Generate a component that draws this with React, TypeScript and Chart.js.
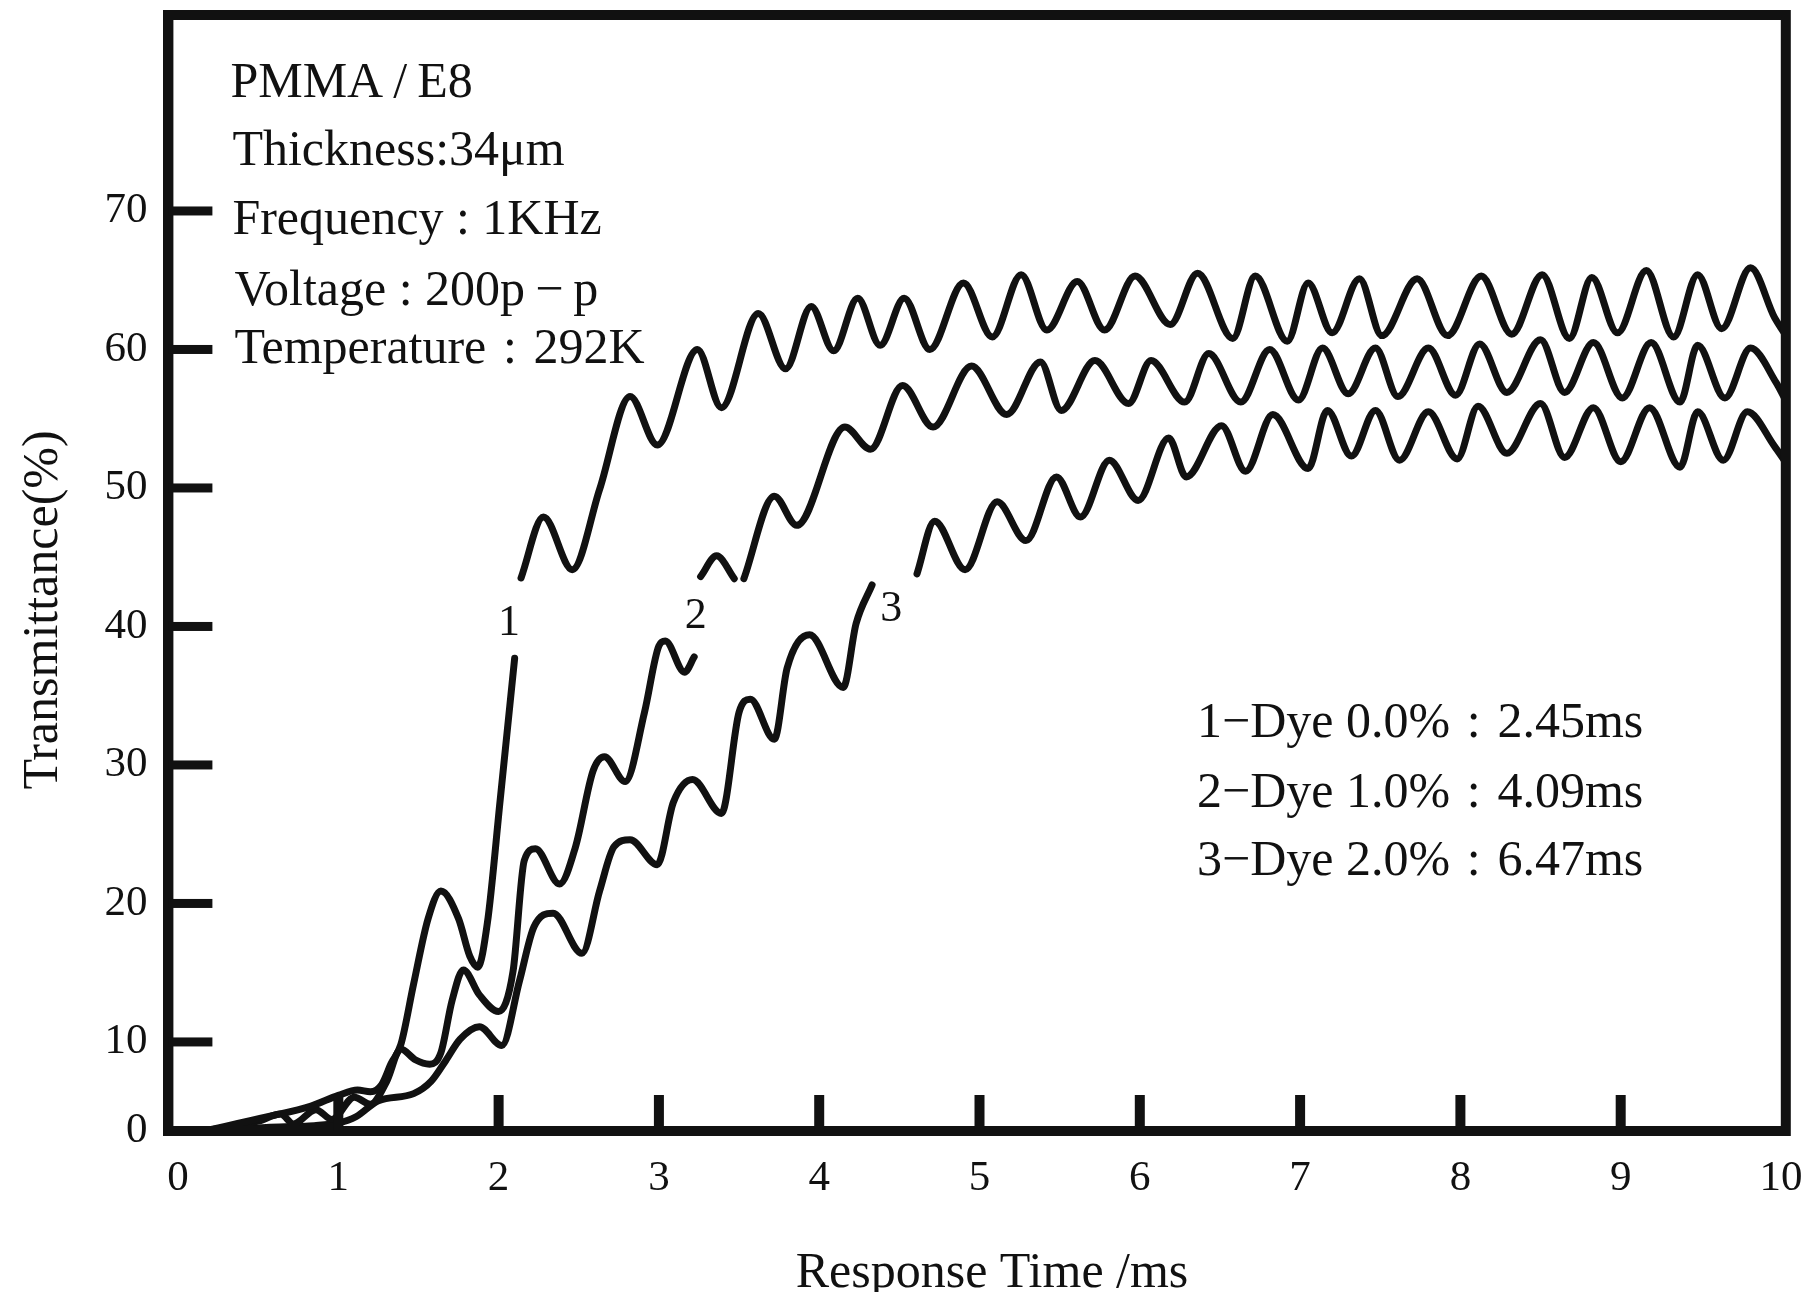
import React, { useEffect, useRef } from 'react';
import { Chart, registerables, LinearScale } from 'chart.js';

Chart.register(...registerables);

// ---------------- data ----------------
const xTickValues = [0, 1, 2, 3, 4, 5, 6, 7, 8, 9, 10];
const yTickValues = [0, 10, 20, 30, 40, 50, 60, 70];
const xInnerTicks = [1, 2, 3, 4, 5, 6, 7, 8, 9];
const yInnerTicks = [10, 20, 30, 40, 50, 60, 70];

// Curve 1 : Dye 0.0 %
const curve1X = [0.16, 0.56, 0.83, 1.0, 1.12, 1.2, 1.27, 1.33, 1.39, 1.47, 1.56, 1.64, 1.75, 1.82, 1.87, 1.93, 2.01, 2.10, 2.12, 2.14, 2.28, 2.46, 2.63, 2.82, 2.99, 3.24, 3.39, 3.62, 3.79, 3.95, 4.09, 4.24, 4.38, 4.53, 4.69, 4.90, 5.08, 5.26, 5.42, 5.61, 5.78, 5.97, 6.19, 6.36, 6.58, 6.72, 6.92, 7.05, 7.20, 7.37, 7.51, 7.73, 7.92, 8.13, 8.32, 8.51, 8.68, 8.82, 8.98, 9.16, 9.33, 9.48, 9.63, 9.81, 9.96, 10.02];
const curve1Y = [0, 1.6, 2.8, 4.0, 4.6, 4.4, 5.2, 7.6, 9.7, 14.2, 18.9, 20.9, 18.9, 16.2, 15.4, 18.6, 27.5, 37.7, null, 43.5, 47.9, 44.1, 49.9, 56.6, 53.1, 60.0, 55.8, 62.6, 58.6, 63.1, 59.9, 63.7, 60.3, 63.7, 60.0, 64.8, 60.9, 65.4, 61.4, 64.9, 61.4, 65.3, 61.8, 65.5, 60.8, 65.3, 60.6, 64.8, 61.2, 65.1, 61.0, 65.1, 61.0, 65.3, 61.1, 65.4, 60.8, 65.2, 61.2, 65.7, 60.9, 65.4, 61.5, 65.9, 62.3, 61.2];

// Curve 2 : Dye 1.0 %
const curve2X = [0.16, 0.5, 0.64, 0.72, 0.86, 0.96, 1.1, 1.2, 1.3, 1.39, 1.48, 1.57, 1.64, 1.71, 1.78, 1.88, 2.0, 2.09, 2.16, 2.23, 2.38, 2.48, 2.59, 2.66, 2.79, 2.91, 3.0, 3.04, 3.16, 3.22, 3.24, 3.26, 3.36, 3.47, 3.50, 3.53, 3.72, 3.86, 4.16, 4.32, 4.52, 4.71, 4.95, 5.17, 5.38, 5.51, 5.72, 5.93, 6.07, 6.28, 6.43, 6.63, 6.81, 6.99, 7.14, 7.30, 7.47, 7.61, 7.80, 7.97, 8.12, 8.29, 8.50, 8.65, 8.83, 9.01, 9.19, 9.37, 9.48, 9.65, 9.81, 9.97, 10.03];
const curve2Y = [0, 1.1, 1.9, 0.8, 2.4, 1.3, 3.8, 3.0, 5.5, 9.2, 8.0, 7.5, 8.8, 13.0, 15.2, 13.4, 12.2, 15.1, 23.1, 23.95, 21.4, 24.1, 29.6, 30.6, 28.8, 33.8, 38.6, 38.95, 36.7, 37.8, null, 43.6, 45.1, 43.45, null, 43.45, 49.4, 47.3, 54.4, 52.8, 57.4, 54.4, 58.8, 55.3, 59.1, 55.6, 59.2, 56.1, 59.2, 56.2, 59.7, 56.2, 60.0, 56.35, 60.1, 56.8, 60.1, 56.6, 60.1, 56.7, 60.4, 56.9, 60.7, 56.9, 60.5, 56.5, 60.5, 56.2, 60.3, 56.5, 60.1, 57.6, 56.3];

// Curve 3 : Dye 2.0 %
const curve3X = [0.16, 0.55, 0.85, 1.0, 1.11, 1.25, 1.47, 1.58, 1.67, 1.76, 1.88, 2.02, 2.13, 2.22, 2.34, 2.52, 2.63, 2.72, 2.82, 2.99, 3.09, 3.21, 3.39, 3.50, 3.57, 3.72, 3.80, 3.94, 4.15, 4.23, 4.33, 4.45, 4.61, 4.72, 4.91, 5.11, 5.29, 5.48, 5.63, 5.81, 5.99, 6.18, 6.29, 6.51, 6.66, 6.83, 7.05, 7.17, 7.32, 7.47, 7.62, 7.80, 7.98, 8.11, 8.29, 8.50, 8.65, 8.83, 9.00, 9.18, 9.37, 9.48, 9.64, 9.79, 9.96, 10.02];
const curve3Y = [0, 0.4, 0.6, 0.9, 1.6, 3.4, 4.2, 5.6, 7.9, 10.2, 11.1, 9.6, 14.4, 18.3, 19.3, 16.4, 20.9, 24.1, 24.6, 22.8, 27.3, 28.95, 26.5, 33.8, 34.75, 31.85, 37.0, 39.4, 35.6, 40.2, 43.0, null, 43.8, 47.6, 44.1, 49.0, 46.2, 50.8, 47.9, 52.0, 49.1, 53.6, 50.8, 54.5, 51.2, 55.3, 51.4, 55.6, 52.3, 55.6, 52.0, 55.5, 52.1, 55.9, 52.5, 56.1, 52.2, 55.8, 51.9, 55.8, 51.5, 55.5, 52.0, 55.5, 53.0, 52.0];

// curve number labels placed next to the curves (data coordinates)
const curveLabelText = ['1', '2', '3'];
const curveLabelX = [2.065, 3.23, 4.45];
const curveLabelY = [40.25, 40.7, 41.2];

const infoLines = ['PMMA\u2009/\u2009E8', 'Thickness:34μm', 'Frequency : 1KHz', 'Voltage : 200p\u2009−\u2009p', 'Temperature\u2004:\u2004292K'];
const legendLines = ['1−Dye 0.0%\u2004:\u20042.45ms', '2−Dye 1.0%\u2004:\u20044.09ms', '3−Dye 2.0%\u2004:\u20046.47ms'];
const xTitle = 'Response Time /ms';
const yTitle = 'Transmittance(%)';

// ---------------- style / layout ----------------
const FAMILY = '"Liberation Serif", "Times New Roman", serif';
const INK = '#111111';
const CANVAS_W = 1803;
const CANVAS_H = 1292;
const AREA_LEFT = 160.4;
const AREA_RIGHT = 1777.8;
const AREA_TOP = 7;
const AREA_BOTTOM = 1123;
const FRAME_W = 10;

// the low part of the value axis (0..10) is drawn compressed, as in the original
const BREAK = 10;
const LOW_FACTOR = 0.643;
const toLinear = (v: number) => (v >= BREAK ? v : BREAK - (BREAK - v) * LOW_FACTOR);
const fromLinear = (u: number) => (u >= BREAK ? u : BREAK - (BREAK - u) / LOW_FACTOR);

class CompressedLowScale extends LinearScale {
  static id = 'compressedLow';
  getPixelForValue(value: any, index?: number) {
    if (value === null || value === undefined || Number.isNaN(value)) return NaN;
    return super.getPixelForValue(toLinear(value), index);
  }
  getValueForPixel(pixel: number) {
    return fromLinear(super.getValueForPixel(pixel) as number);
  }
}
Chart.register(CompressedLowScale);

const toPoints = (xs: number[], ys: (number | null)[]) => xs.map((x, i) => ({ x, y: ys[i] }));

const decorPlugin = {
  id: 'decor',
  afterDraw(chart: any) {
    const { ctx, chartArea: a, scales } = chart;
    const xs = scales.x;
    const ys = scales.y;
    ctx.save();
    ctx.fillStyle = INK;
    ctx.strokeStyle = INK;
    // frame
    ctx.lineWidth = FRAME_W;
    ctx.lineJoin = 'miter';
    ctx.strokeRect(a.left, a.top, a.right - a.left, a.bottom - a.top);
    // inward tick marks
    for (const v of xInnerTicks) {
      const px = xs.getPixelForValue(v);
      ctx.fillRect(px - 5, a.bottom - 36, 10, 36);
    }
    for (const v of yInnerTicks) {
      const py = ys.getPixelForValue(v);
      ctx.fillRect(a.left, py - 4.5, 44, 9);
    }
    // info block
    ctx.font = `50px ${FAMILY}`;
    ctx.textAlign = 'left';
    ctx.textBaseline = 'alphabetic';
    const infoDx = [62, 64, 64, 66, 66];
    const infoDy = [82, 150, 219, 290, 348];
    infoLines.forEach((t, i) => ctx.fillText(t, a.left + infoDx[i], a.top + infoDy[i]));
    // legend block
    const legDy = [722, 792, 860];
    legendLines.forEach((t, i) => ctx.fillText(t, a.left + 1028.6, a.top + legDy[i]));
    // axis titles
    ctx.textAlign = 'center';
    ctx.fillText(xTitle, a.left + 823.6, a.bottom + 156);
    ctx.save();
    ctx.translate(a.left - 111.4, a.top + 595);
    ctx.rotate(-Math.PI / 2);
    ctx.fillText(yTitle, 0, 0);
    ctx.restore();
    // curve numbers
    ctx.font = `44px ${FAMILY}`;
    ctx.textBaseline = 'middle';
    curveLabelText.forEach((t, i) => {
      ctx.fillText(t, xs.getPixelForValue(curveLabelX[i]), ys.getPixelForValue(curveLabelY[i]));
    });
    ctx.restore();
  },
};

const lineStyle = {
  borderColor: INK,
  borderWidth: 7,
  pointRadius: 0,
  pointHoverRadius: 0,
  fill: false,
  spanGaps: false,
  cubicInterpolationMode: 'monotone' as const,
  borderCapStyle: 'round' as const,
  borderJoinStyle: 'round' as const,
};

export default function App() {
  const ref = useRef<HTMLCanvasElement | null>(null);
  useEffect(() => {
    if (!ref.current) return;
    const chart = new Chart(ref.current, {
      type: 'line',
      data: {
        datasets: [
          { label: '1', data: toPoints(curve1X, curve1Y), ...lineStyle },
          { label: '2', data: toPoints(curve2X, curve2Y), ...lineStyle },
          { label: '3', data: toPoints(curve3X, curve3Y), ...lineStyle },
        ] as any,
      },
      options: {
        responsive: false,
        animation: false,
        events: [],
        layout: { padding: { left: 0, right: CANVAS_W - AREA_RIGHT, top: AREA_TOP, bottom: 0 } },
        plugins: { legend: { display: false }, tooltip: { enabled: false }, title: { display: false } },
        scales: {
          x: {
            type: 'linear',
            min: -0.06,
            max: 10.03,
            bounds: 'data',
            afterBuildTicks: (s: any) => { s.ticks = xTickValues.map((v) => ({ value: v })); },
            afterFit: (s: any) => { s.height = CANVAS_H - AREA_BOTTOM; s.paddingLeft = 0; s.paddingRight = 0; },
            grid: { display: false, drawTicks: false, tickLength: 0 },
            border: { display: true, width: FRAME_W, color: INK },
            ticks: {
              autoSkip: false,
              maxRotation: 0,
              padding: 22,
              color: INK,
              font: { family: FAMILY, size: 43 },
              callback: (v: any) => String(v),
            },
          },
          y: {
            type: 'compressedLow' as any,
            min: toLinear(0),
            max: 84.15,
            bounds: 'data',
            afterBuildTicks: (s: any) => { s.ticks = yTickValues.map((v) => ({ value: v })); },
            afterFit: (s: any) => { s.width = AREA_LEFT; s.paddingTop = 0; s.paddingBottom = 0; },
            grid: { display: false, drawTicks: false, tickLength: 0 },
            border: { display: true, width: FRAME_W, color: INK },
            ticks: {
              autoSkip: false,
              padding: 21,
              color: INK,
              font: { family: FAMILY, size: 43 },
              callback: (v: any) => String(v),
            },
          },
        },
      } as any,
      plugins: [decorPlugin],
    });
    return () => chart.destroy();
  }, []);
  return (
    <div style={{ width: CANVAS_W, height: CANVAS_H, marginBottom: -8, background: '#fff' }}>
      <canvas ref={ref} width={CANVAS_W} height={CANVAS_H} style={{ display: 'block' }} />
    </div>
  );
}
